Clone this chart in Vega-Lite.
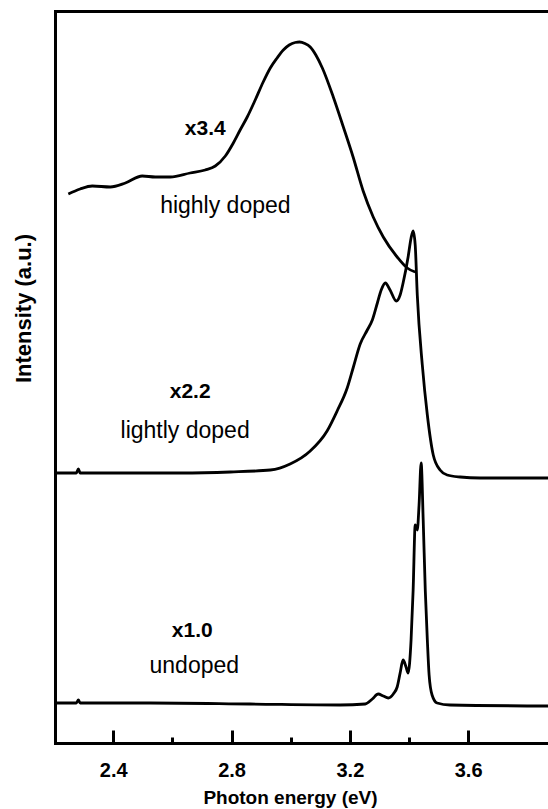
{
  "$schema": "https://vega.github.io/schema/vega-lite/v6.json",
  "width": 493,
  "height": 732,
  "autosize": "none",
  "padding": {"left": 55, "top": 11, "right": 0, "bottom": 66},
  "config": {"view": {"stroke": null}, "font": "Liberation Sans"},
  "datasets": {
    "curves": [
      {"sample": "highly doped", "energy": 2.248, "intensity": 549},
      {"sample": "highly doped", "energy": 2.288, "intensity": 554},
      {"sample": "highly doped", "energy": 2.329, "intensity": 557},
      {"sample": "highly doped", "energy": 2.390, "intensity": 556},
      {"sample": "highly doped", "energy": 2.441, "intensity": 560},
      {"sample": "highly doped", "energy": 2.498, "intensity": 567},
      {"sample": "highly doped", "energy": 2.542, "intensity": 566},
      {"sample": "highly doped", "energy": 2.593, "intensity": 566},
      {"sample": "highly doped", "energy": 2.660, "intensity": 570},
      {"sample": "highly doped", "energy": 2.711, "intensity": 573},
      {"sample": "highly doped", "energy": 2.745, "intensity": 577},
      {"sample": "highly doped", "energy": 2.779, "intensity": 587},
      {"sample": "highly doped", "energy": 2.806, "intensity": 600},
      {"sample": "highly doped", "energy": 2.829, "intensity": 613},
      {"sample": "highly doped", "energy": 2.853, "intensity": 626},
      {"sample": "highly doped", "energy": 2.880, "intensity": 643},
      {"sample": "highly doped", "energy": 2.907, "intensity": 661},
      {"sample": "highly doped", "energy": 2.931, "intensity": 675},
      {"sample": "highly doped", "energy": 2.954, "intensity": 685},
      {"sample": "highly doped", "energy": 2.975, "intensity": 693},
      {"sample": "highly doped", "energy": 2.995, "intensity": 698},
      {"sample": "highly doped", "energy": 3.015, "intensity": 700.5},
      {"sample": "highly doped", "energy": 3.030, "intensity": 701},
      {"sample": "highly doped", "energy": 3.048, "intensity": 699.5},
      {"sample": "highly doped", "energy": 3.066, "intensity": 696},
      {"sample": "highly doped", "energy": 3.085, "intensity": 688},
      {"sample": "highly doped", "energy": 3.107, "intensity": 675},
      {"sample": "highly doped", "energy": 3.144, "intensity": 646},
      {"sample": "highly doped", "energy": 3.178, "intensity": 616},
      {"sample": "highly doped", "energy": 3.211, "intensity": 586},
      {"sample": "highly doped", "energy": 3.245, "intensity": 552},
      {"sample": "highly doped", "energy": 3.279, "intensity": 526},
      {"sample": "highly doped", "energy": 3.313, "intensity": 506},
      {"sample": "highly doped", "energy": 3.360, "intensity": 486},
      {"sample": "highly doped", "energy": 3.394, "intensity": 475},
      {"sample": "highly doped", "energy": 3.421, "intensity": 471},

      {"sample": "lightly doped", "energy": 2.204, "intensity": 270},
      {"sample": "lightly doped", "energy": 2.275, "intensity": 270},
      {"sample": "lightly doped", "energy": 2.282, "intensity": 274},
      {"sample": "lightly doped", "energy": 2.288, "intensity": 270},
      {"sample": "lightly doped", "energy": 2.424, "intensity": 270},
      {"sample": "lightly doped", "energy": 2.627, "intensity": 270},
      {"sample": "lightly doped", "energy": 2.796, "intensity": 271},
      {"sample": "lightly doped", "energy": 2.931, "intensity": 273},
      {"sample": "lightly doped", "energy": 2.998, "intensity": 279},
      {"sample": "lightly doped", "energy": 3.066, "intensity": 292},
      {"sample": "lightly doped", "energy": 3.123, "intensity": 312},
      {"sample": "lightly doped", "energy": 3.157, "intensity": 332},
      {"sample": "lightly doped", "energy": 3.191, "intensity": 355},
      {"sample": "lightly doped", "energy": 3.211, "intensity": 375},
      {"sample": "lightly doped", "energy": 3.235, "intensity": 399},
      {"sample": "lightly doped", "energy": 3.259, "intensity": 413},
      {"sample": "lightly doped", "energy": 3.276, "intensity": 423},
      {"sample": "lightly doped", "energy": 3.293, "intensity": 440},
      {"sample": "lightly doped", "energy": 3.306, "intensity": 453},
      {"sample": "lightly doped", "energy": 3.320, "intensity": 460},
      {"sample": "lightly doped", "energy": 3.336, "intensity": 453},
      {"sample": "lightly doped", "energy": 3.357, "intensity": 442},
      {"sample": "lightly doped", "energy": 3.370, "intensity": 448},
      {"sample": "lightly doped", "energy": 3.380, "intensity": 460},
      {"sample": "lightly doped", "energy": 3.397, "intensity": 486},
      {"sample": "lightly doped", "energy": 3.407, "intensity": 505},
      {"sample": "lightly doped", "energy": 3.414, "intensity": 512},
      {"sample": "lightly doped", "energy": 3.421, "intensity": 498},
      {"sample": "lightly doped", "energy": 3.428, "intensity": 448},
      {"sample": "lightly doped", "energy": 3.445, "intensity": 378},
      {"sample": "lightly doped", "energy": 3.462, "intensity": 328},
      {"sample": "lightly doped", "energy": 3.482, "intensity": 288},
      {"sample": "lightly doped", "energy": 3.505, "intensity": 273},
      {"sample": "lightly doped", "energy": 3.529, "intensity": 268},
      {"sample": "lightly doped", "energy": 3.573, "intensity": 266},
      {"sample": "lightly doped", "energy": 3.641, "intensity": 265},
      {"sample": "lightly doped", "energy": 3.871, "intensity": 265},

      {"sample": "undoped", "energy": 2.204, "intensity": 40},
      {"sample": "undoped", "energy": 2.275, "intensity": 40},
      {"sample": "undoped", "energy": 2.282, "intensity": 43},
      {"sample": "undoped", "energy": 2.288, "intensity": 40},
      {"sample": "undoped", "energy": 2.525, "intensity": 40},
      {"sample": "undoped", "energy": 2.863, "intensity": 39},
      {"sample": "undoped", "energy": 3.167, "intensity": 38},
      {"sample": "undoped", "energy": 3.252, "intensity": 39},
      {"sample": "undoped", "energy": 3.276, "intensity": 44},
      {"sample": "undoped", "energy": 3.296, "intensity": 49},
      {"sample": "undoped", "energy": 3.313, "intensity": 47},
      {"sample": "undoped", "energy": 3.330, "intensity": 45},
      {"sample": "undoped", "energy": 3.347, "intensity": 49},
      {"sample": "undoped", "energy": 3.360, "intensity": 56},
      {"sample": "undoped", "energy": 3.370, "intensity": 70},
      {"sample": "undoped", "energy": 3.380, "intensity": 83},
      {"sample": "undoped", "energy": 3.390, "intensity": 76},
      {"sample": "undoped", "energy": 3.397, "intensity": 70},
      {"sample": "undoped", "energy": 3.407, "intensity": 103},
      {"sample": "undoped", "energy": 3.414, "intensity": 153},
      {"sample": "undoped", "energy": 3.421, "intensity": 218},
      {"sample": "undoped", "energy": 3.428, "intensity": 213},
      {"sample": "undoped", "energy": 3.434, "intensity": 238},
      {"sample": "undoped", "energy": 3.441, "intensity": 280},
      {"sample": "undoped", "energy": 3.448, "intensity": 223},
      {"sample": "undoped", "energy": 3.455, "intensity": 153},
      {"sample": "undoped", "energy": 3.462, "intensity": 103},
      {"sample": "undoped", "energy": 3.468, "intensity": 68},
      {"sample": "undoped", "energy": 3.478, "intensity": 48},
      {"sample": "undoped", "energy": 3.495, "intensity": 40},
      {"sample": "undoped", "energy": 3.539, "intensity": 38},
      {"sample": "undoped", "energy": 3.871, "intensity": 37}
    ],
    "factors": [
      {"text": "x3.4", "energy": 2.711, "intensity": 608},
      {"text": "x2.2", "energy": 2.660, "intensity": 345},
      {"text": "x1.0", "energy": 2.667, "intensity": 106}
    ],
    "names": [
      {"text": "highly doped", "energy": 2.779, "intensity": 530},
      {"text": "lightly doped", "energy": 2.643, "intensity": 305},
      {"text": "undoped", "energy": 2.674, "intensity": 70}
    ]
  },
  "layer": [
    {
      "data": {"name": "curves"},
      "mark": {"type": "line", "color": "black", "strokeWidth": 2.8, "interpolate": "monotone"},
      "encoding": {
        "x": {
          "field": "energy", "type": "quantitative",
          "scale": {"domain": [2.203, 3.87], "nice": false, "zero": false},
          "axis": {
            "values": [2.4, 2.8, 3.2, 3.6], "format": ".1f",
            "ticks": false,
            "domainWidth": 3, "domainColor": "black", "domainCap": "square",
            "labelFont": "Liberation Sans", "labelFontWeight": "bold", "labelFontSize": 20,
            "labelColor": "black", "labelBaseline": "alphabetic", "labelPadding": 33,
            "grid": false,
            "title": "Photon energy (eV)", "titleFont": "Liberation Sans", "titleFontSize": 19,
            "titleFontWeight": "bold", "titleColor": "black",
            "titleX": 235, "titleY": 60, "titleBaseline": "alphabetic"
          }
        },
        "y": {
          "field": "intensity", "type": "quantitative",
          "scale": {"domain": [0, 732], "nice": false},
          "axis": {
            "ticks": false, "labels": false, "grid": false,
            "domainWidth": 3, "domainColor": "black", "domainCap": "square",
            "title": "Intensity (a.u.)", "titleFont": "Liberation Sans", "titleFontSize": 22,
            "titleFontWeight": "bold", "titleColor": "black",
            "titleX": -32, "titleY": 297, "titleBaseline": "middle", "titleAngle": -90
          }
        },
        "detail": {"field": "sample"}
      }
    },
    {
      "data": {"name": "factors"},
      "mark": {"type": "text", "font": "Liberation Sans", "fontWeight": "bold", "fontSize": 21, "align": "center", "baseline": "alphabetic", "color": "black"},
      "encoding": {
        "x": {
          "field": "energy", "type": "quantitative",
          "axis": {
            "orient": "top", "offset": -732,
            "values": [2.4, 2.6, 2.8, 3.0, 3.2, 3.4, 3.6],
            "labels": false, "domain": false, "grid": false, "title": null,
            "tickWidth": 3, "tickColor": "black",
            "tickSize": {"condition": {"test": "round(datum.value * 10) % 4 != 0", "value": 6}, "value": 13}
          }
        },
        "y": {"field": "intensity", "type": "quantitative", "axis": null},
        "text": {"field": "text"}
      }
    },
    {
      "data": {"name": "names"},
      "mark": {"type": "text", "font": "Liberation Sans", "fontSize": 23, "align": "center", "baseline": "alphabetic", "color": "black"},
      "encoding": {
        "x": {
          "field": "energy", "type": "quantitative",
          "axis": {"orient": "top", "ticks": false, "labels": false, "domainWidth": 3, "domainColor": "black", "domainCap": "square", "grid": false, "title": null}
        },
        "y": {"field": "intensity", "type": "quantitative", "axis": null},
        "text": {"field": "text"}
      }
    }
  ],
  "resolve": {"axis": {"x": "independent", "y": "independent"}}
}
